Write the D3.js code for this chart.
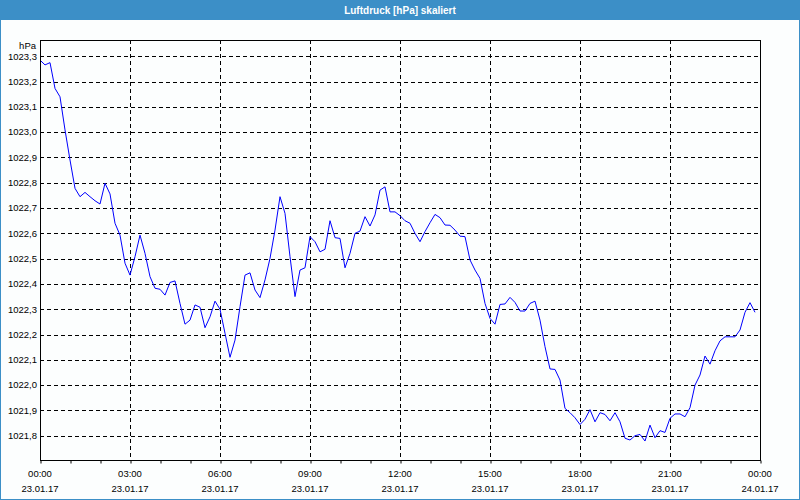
<!DOCTYPE html>
<html><head><meta charset="utf-8">
<script src="https://cdn.jsdelivr.net/npm/d3@7"></script>
<style>
html,body{margin:0;padding:0;background:#fff;}
svg{display:block;}
text{font-family:"Liberation Sans",Arial,sans-serif;}
</style></head>
<body><svg id="c" width="800" height="500"></svg>
<script>
const title = "Luftdruck [hPa] skaliert";
const unitLabel = "hPa";
// 10-minute samples starting 23.01.17 00:00
const startTime = "2017-01-23T00:00:00";
const stepMinutes = 10;
const pressure = [
1023.285,1023.266,1023.275,1023.173,1023.140,1023.009,1022.890,1022.778,1022.745,1022.762,
1022.745,1022.729,1022.716,1022.798,1022.756,1022.640,1022.593,1022.482,1022.435,1022.508,
1022.593,1022.521,1022.429,1022.383,1022.379,1022.356,1022.406,1022.412,1022.323,1022.241,
1022.257,1022.317,1022.308,1022.227,1022.270,1022.332,1022.300,1022.205,1022.110,1022.178,
1022.310,1022.435,1022.444,1022.376,1022.346,1022.416,1022.501,1022.613,1022.745,1022.679,
1022.508,1022.350,1022.455,1022.464,1022.587,1022.567,1022.527,1022.537,1022.650,1022.583,
1022.580,1022.464,1022.521,1022.600,1022.609,1022.666,1022.629,1022.673,1022.771,1022.784,
1022.685,1022.685,1022.670,1022.650,1022.640,1022.600,1022.567,1022.607,1022.642,1022.675,
1022.662,1022.633,1022.632,1022.613,1022.589,1022.587,1022.495,1022.455,1022.422,1022.323,
1022.264,1022.241,1022.319,1022.321,1022.347,1022.327,1022.293,1022.293,1022.323,1022.332,
1022.257,1022.152,1022.064,1022.062,1022.020,1021.908,1021.891,1021.871,1021.844,1021.865,
1021.903,1021.855,1021.891,1021.884,1021.859,1021.891,1021.855,1021.790,1021.783,1021.800,
1021.805,1021.779,1021.842,1021.792,1021.820,1021.813,1021.869,1021.886,1021.886,1021.875,
1021.911,1022.000,1022.040,1022.115,1022.083,1022.136,1022.175,1022.191,1022.191,1022.191,
1022.218,1022.288,1022.326,1022.288
];
const yTicks = [1021.8,1021.9,1022.0,1022.1,1022.2,1022.3,1022.4,1022.5,1022.6,1022.7,1022.8,1022.9,1023.0,1023.1,1023.2,1023.3];
const yDomain = [1021.704, 1023.3645];
const xStart = "2017-01-23T00:00:00";
const xEnd = "2017-01-24T00:00:00";

const svg = d3.select("#c");
const W = 800, H = 500;
const L = 40, R = 760, T = 40, B = 460;
const blue = "#3c8fc7";

svg.append("rect").attr("x",0).attr("y",0).attr("width",W).attr("height",H).attr("fill","#fcfefe");
svg.append("rect").attr("x",0).attr("y",0).attr("width",W).attr("height",20).attr("fill",blue);
svg.append("rect").attr("x",0.5).attr("y",0.5).attr("width",W-1).attr("height",H-1)
  .attr("fill","none").attr("stroke",blue).attr("stroke-width",1);
svg.append("text").attr("x",W/2).attr("y",13.5).attr("text-anchor","middle")
  .attr("fill","#fff").attr("font-weight","bold").attr("font-size","10px")
  .style("font-family","'Liberation Sans Narrow','Liberation Sans',sans-serif")
  .text(title);

const parse = d3.isoParse;
const t0 = parse(startTime);
const data = pressure.map((v,i)=>({t:new Date(t0.getTime()+i*stepMinutes*60000), v}));

const x = d3.scaleTime().domain([parse(xStart), parse(xEnd)]).range([L,R]);
const y = d3.scaleLinear().domain(yDomain).range([B,T]);

const g = svg.append("g");
// horizontal grid
g.selectAll("line.hg").data(yTicks).join("line")
  .attr("x1",L).attr("x2",R)
  .attr("y1",d=>Math.round(y(d))+0.5).attr("y2",d=>Math.round(y(d))+0.5)
  .attr("stroke","#000").attr("stroke-dasharray","4,3").attr("stroke-width",1);
// vertical grid every 3 hours
const majors = d3.timeHour.every(3).range(parse(xStart), new Date(parse(xEnd).getTime()+1));
g.selectAll("line.vg").data(majors.slice(1,-1)).join("line")
  .attr("y1",T).attr("y2",B)
  .attr("x1",d=>Math.round(x(d))+0.5).attr("x2",d=>Math.round(x(d))+0.5)
  .attr("stroke","#000").attr("stroke-dasharray","4,3").attr("stroke-width",1);

// data line
const line = d3.line().x(d=>x(d.t)).y(d=>y(d.v));
svg.append("path").datum(data).attr("d",line)
  .attr("fill","none").attr("stroke","#0000ff").attr("stroke-width",1);

// frame
svg.append("rect").attr("x",L+0.5).attr("y",T+0.5).attr("width",R-L).attr("height",B-T)
  .attr("fill","none").attr("stroke","#000").attr("stroke-width",1);

// x axis ticks (hourly)
const xAxis = d3.axisBottom(x).ticks(d3.timeHour.every(1)).tickSize(3).tickFormat("");
const xa = svg.append("g").attr("transform",`translate(0.5,${B+0.5})`).call(xAxis);
xa.select(".domain").remove();
xa.selectAll(".tick line").attr("stroke","#000");

// x labels
const fmtT = d3.timeFormat("%H:%M"), fmtD = d3.timeFormat("%d.%m.%y");
const lab = svg.append("g").attr("font-size","9.5px").attr("fill","#000").attr("text-anchor","middle");
majors.forEach(d=>{
  lab.append("text").attr("x",x(d)).attr("y",477).text(fmtT(d));
  lab.append("text").attr("x",x(d)).attr("y",491.5).text(fmtD(d));
});

// y labels
const ylab = svg.append("g").attr("font-size","9.5px").attr("fill","#000").attr("text-anchor","end");
const fmtY = v => d3.format(".1f")(v).replace(".",",");
yTicks.forEach(v=>{
  ylab.append("text").attr("x",37).attr("y",y(v)+3.3).text(fmtY(v));
});
ylab.append("text").attr("x",36).attr("y",48.5).text(unitLabel);
</script></body></html>
